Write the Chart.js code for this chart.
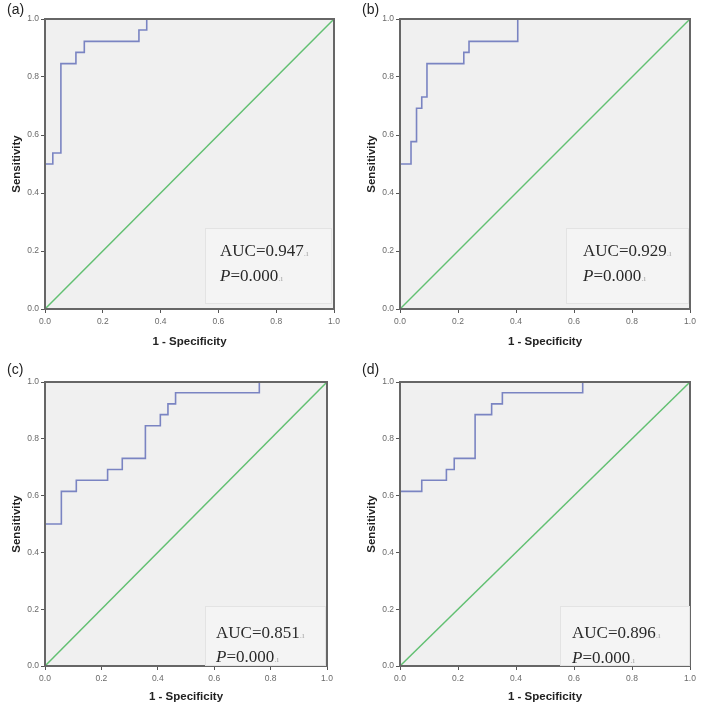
<!DOCTYPE html>
<html><head><meta charset="utf-8">
<script src="https://cdn.jsdelivr.net/npm/chart.js@4.4.1/dist/chart.umd.min.js"></script>
<style>
html,body{margin:0;padding:0;background:#fff;}
#wrap{position:relative;width:709px;height:710px;overflow:hidden;background:#fff;}
canvas{position:absolute;}
.lbl{position:absolute;font:14px "Liberation Sans",Arial,sans-serif;color:#222;line-height:14px;}
.auc{position:absolute;font:17px "Liberation Serif","Times New Roman",serif;color:#2a2a2a;line-height:17px;white-space:nowrap;}
.pm{font-size:9px;color:#aaa;}
.box{position:absolute;background:rgba(255,255,255,0.3);border:1px solid #e3e3e3;}
</style></head>
<body><div id="wrap">
<canvas id="ca" width="354" height="356" style="left:0;top:0"></canvas>
<canvas id="cb" width="354" height="356" style="left:355px;top:0"></canvas>
<canvas id="cc" width="354" height="352" style="left:0;top:358px"></canvas>
<canvas id="cd" width="354" height="352" style="left:355px;top:358px"></canvas>
<div class="lbl" id="l1" style="left:7px;top:2px"></div>
<div class="lbl" id="l2" style="left:362px;top:2px"></div>
<div class="lbl" id="l3" style="left:7px;top:362px"></div>
<div class="lbl" id="l4" style="left:362px;top:362px"></div>
<div class="box" style="left:205px;top:228px;width:125px;height:74px"></div>
<div class="box" style="left:566px;top:228px;width:121px;height:74px"></div>
<div class="box" style="left:205px;top:606px;width:119px;height:58px"></div>
<div class="box" style="left:560px;top:606px;width:128px;height:58px"></div>
<div class="auc" id="ta1" style="left:220px;top:242px"></div>
<div class="auc" id="tp1" style="left:220px;top:267px"></div>
<div class="auc" id="ta2" style="left:583px;top:242px"></div>
<div class="auc" id="tp2" style="left:583px;top:267px"></div>
<div class="auc" id="ta3" style="left:216px;top:624px"></div>
<div class="auc" id="tp3" style="left:216px;top:648px"></div>
<div class="auc" id="ta4" style="left:572px;top:624px"></div>
<div class="auc" id="tp4" style="left:572px;top:649px"></div>
</div>
<script>
// ---- data ----
const tickLabels = ['0.0','0.2','0.4','0.6','0.8','1.0'];
const panelLabels = ['(a)','(b)','(c)','(d)'];
const aucValues = ['0.947','0.929','0.851','0.896'];
const pValues = ['0.000','0.000','0.000','0.000'];

const fprA = [0, 0, 0.027, 0.055, 0.107, 0.136, 0.325, 0.352, 1];
const tprA = [0, 0.5, 0.538, 0.846, 0.885, 0.923, 0.962, 1, 1];

const fprB = [0, 0, 0.038, 0.057, 0.075, 0.093, 0.220, 0.238, 0.406, 1];
const tprB = [0, 0.5, 0.577, 0.692, 0.731, 0.846, 0.885, 0.923, 1, 1];

const fprC = [0, 0, 0.058, 0.111, 0.222, 0.274, 0.356, 0.409, 0.436, 0.463, 0.760, 1];
const tprC = [0, 0.5, 0.615, 0.654, 0.692, 0.731, 0.846, 0.885, 0.923, 0.962, 1, 1];

const fprD = [0, 0, 0.075, 0.160, 0.187, 0.259, 0.316, 0.353, 0.630, 1];
const tprD = [0, 0.615, 0.654, 0.692, 0.731, 0.885, 0.923, 0.962, 1, 1];

const refX = [0, 1];
const refY = [0, 1];

// ---- text ----
for (let i = 0; i < 4; i++) {
  document.getElementById('l' + (i + 1)).textContent = panelLabels[i];
  document.getElementById('ta' + (i + 1)).innerHTML = 'AUC=' + aucValues[i] + '<span class="pm">.ı</span>';
  document.getElementById('tp' + (i + 1)).innerHTML = '<i>P</i>=' + pValues[i] + '<span class="pm">.ı</span>';
}

const toPts = (xs, ys) => xs.map((x, i) => ({x: x, y: ys[i]}));

const framePlugin = {
  id: 'frame',
  beforeDraw(chart) {
    const a = chart.chartArea, c = chart.ctx;
    c.save();
    c.fillStyle = '#f0f0f0';
    c.fillRect(a.left, a.top, a.right - a.left, a.bottom - a.top);
    c.restore();
  },
  afterDatasetsDraw(chart) {
    const a = chart.chartArea, c = chart.ctx;
    c.save();
    c.strokeStyle = '#666';
    c.lineWidth = 2;
    c.strokeRect(a.left, a.top, a.right - a.left, a.bottom - a.top);
    c.restore();
  }
};

function makePanel(id, xs, ys, pad, xh) {
  const tickFont = {family: '"Liberation Sans", Arial, sans-serif', size: 8.5};
  const titleFont = {family: '"Liberation Sans", Arial, sans-serif', size: 11.5, weight: 'bold'};
  new Chart(document.getElementById(id), {
    type: 'scatter',
    data: {
      datasets: [
        {data: toPts(refX, refY), showLine: true, borderColor: '#62c072', borderWidth: 1.5, pointRadius: 0, clip: false},
        {data: toPts(xs, ys), showLine: true, stepped: 'before', borderColor: '#7a84c2', borderWidth: 1.6, pointRadius: 0, clip: false}
      ]
    },
    options: {
      responsive: false,
      animation: false,
      devicePixelRatio: 1,
      layout: {padding: pad},
      plugins: {legend: {display: false}, tooltip: {enabled: false}},
      scales: {
        x: {
          type: 'linear', min: 0, max: 1,
          ticks: {stepSize: 0.2, font: tickFont, color: '#6a6a6a', padding: 4, maxRotation: 0,
                  callback: (v, i) => tickLabels[i]},
          grid: {drawOnChartArea: false, drawTicks: true, tickLength: 4, color: '#555'},
          border: {display: true, color: '#555', width: 1.5},
          title: {display: true, text: '1 - Specificity', font: titleFont, color: '#222', padding: {top: 0, bottom: 0}},
          afterFit: s => { s.height = xh; }
        },
        y: {
          type: 'linear', min: 0, max: 1,
          ticks: {stepSize: 0.2, font: tickFont, color: '#6a6a6a', padding: 2,
                  callback: (v, i) => tickLabels[i]},
          grid: {drawOnChartArea: false, drawTicks: true, tickLength: 4, color: '#555'},
          border: {display: true, color: '#555', width: 1.5},
          title: {display: true, text: 'Sensitivity', font: titleFont, color: '#222', padding: {top: 10, bottom: 0}},
          afterFit: s => { s.width = 45; }
        }
      }
    },
    plugins: [framePlugin]
  });
}

makePanel('ca', fprA, tprA, {left: 0, right: 20, top: 19, bottom: 7}, 40);
makePanel('cb', fprB, tprB, {left: 0, right: 19, top: 19, bottom: 7}, 40);
makePanel('cc', fprC, tprC, {left: 0, right: 27, top: 24, bottom: 6}, 38);
makePanel('cd', fprD, tprD, {left: 0, right: 19, top: 24, bottom: 6}, 38);
</script>
</body></html>
